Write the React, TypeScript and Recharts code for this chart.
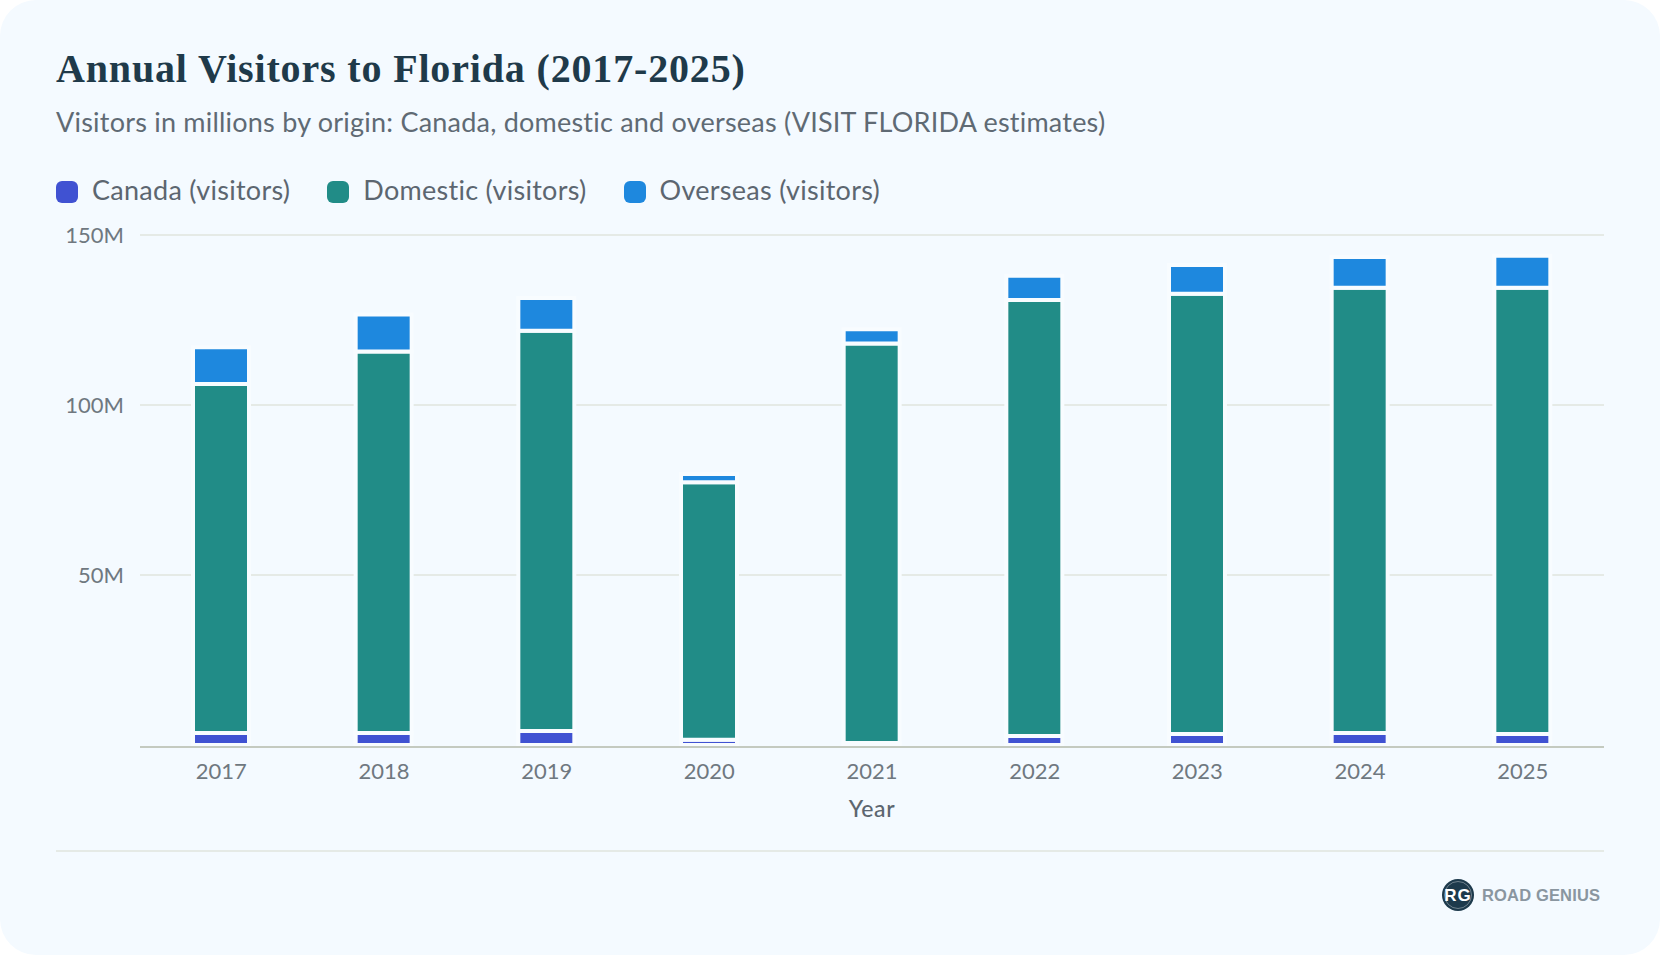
import React from 'react';
import { BarChart, Bar, XAxis, YAxis, CartesianGrid, Legend } from 'recharts';

const years = ['2017', '2018', '2019', '2020', '2021', '2022', '2023', '2024', '2025'];
const canada = [3.5, 3.5, 4.1, 1.5, 0.6, 2.6, 3.2, 3.5, 3.2];
const domestic = [102.7, 112.2, 117.7, 75.8, 117.5, 128.3, 129.5, 131.0, 131.3];
const overseas = [10.8, 10.9, 9.7, 2.4, 4.2, 7.1, 8.5, 9.0, 9.4];
const yTicks = [50, 100, 150];

const data = years.map((year, i) => ({
  year,
  canada: canada[i],
  domestic: domestic[i],
  overseas: overseas[i],
}));

const BODY_FONT = 'Lato, "Open Sans", sans-serif';
const MUTED = '#6f7880';
const GAP = '#f8fcff';

// Legend with rounded swatches, spaced like the original
const ChartLegend = ({ payload }: { payload?: Array<{ value: string; color: string }> }) => (
  <div style={{ display: 'flex', fontFamily: BODY_FONT }}>
    {(payload || []).map((entry) => (
      <div key={entry.value} style={{ display: 'flex', alignItems: 'center', marginRight: 37 }}>
        <span style={{ width: 22, height: 22, borderRadius: 6, background: entry.color, marginRight: 14, marginTop: 3 }} />
        <span style={{ fontSize: 27, letterSpacing: 0.28, color: '#5c6670', lineHeight: '32px', whiteSpace: 'nowrap' }}>{entry.value}</span>
      </div>
    ))}
  </div>
);

export default function App() {
  return (
    <div style={{ position: 'absolute', left: 0, top: 0, width: 1660, height: 955, background: '#fff', overflow: 'hidden' }}>
      <div style={{ position: 'absolute', inset: 0, background: '#f4faff', borderRadius: 36 }} />

      <div
        style={{
          position: 'absolute',
          left: 56,
          top: 45,
          fontFamily: '"Liberation Serif", serif',
          fontWeight: 700,
          fontSize: 40,
          letterSpacing: 0.84,
          lineHeight: '48px',
          color: '#1f3a4a',
          whiteSpace: 'nowrap',
        }}
      >
        Annual Visitors to Florida (2017-2025)
      </div>
      <div
        style={{
          position: 'absolute',
          left: 56,
          top: 105,
          fontFamily: BODY_FONT,
          fontSize: 27,
          letterSpacing: 0.22,
          lineHeight: '34px',
          color: '#5f6a74',
          whiteSpace: 'nowrap',
        }}
      >
        Visitors in millions by origin: Canada, domestic and overseas (VISIT FLORIDA estimates)
      </div>

      <div style={{ position: 'absolute', left: 0, top: 0 }}>
        <BarChart
          width={1660}
          height={955}
          data={data}
          margin={{ top: 235, right: 56, bottom: 0, left: 0 }}
          barCategoryGap={0}
        >
          <CartesianGrid horizontal vertical={false} stroke="#e5eae6" strokeWidth={2} />
          <XAxis
            dataKey="year"
            height={208}
            axisLine={{ stroke: '#c4cac0', strokeWidth: 2 }}
            tickLine={false}
            tickMargin={10}
            tick={{ fill: MUTED, fontSize: 22, fontFamily: BODY_FONT }}
            label={{ value: 'Year', position: 'insideTop', offset: 54, fill: '#5c6670', fontSize: 23, letterSpacing: 0.6, fontWeight: 500, fontFamily: BODY_FONT }}
          />
          <YAxis
            width={140}
            domain={[-0.6, 150]}
            ticks={yTicks}
            tickFormatter={(v: number) => `${v}M`}
            axisLine={false}
            tickLine={false}
            tickMargin={10}
            tick={{ fill: MUTED, fontSize: 22, fontFamily: BODY_FONT }}
          />
          <Legend
            layout="horizontal"
            verticalAlign="middle"
            align="center"
            wrapperStyle={{ top: 174, left: 56, width: 1000, height: 36 }}
            content={(props: any) => <ChartLegend payload={props.payload} />}
          />
          <Bar dataKey="canada" name="Canada (visitors)" stackId="a" barSize={56} fill="#4052d2" stroke={GAP} strokeWidth={4} isAnimationActive={false} />
          <Bar dataKey="domestic" name="Domestic (visitors)" stackId="a" barSize={56} fill="#218c87" stroke={GAP} strokeWidth={4} isAnimationActive={false} />
          <Bar dataKey="overseas" name="Overseas (visitors)" stackId="a" barSize={56} fill="#1e88de" stroke={GAP} strokeWidth={4} isAnimationActive={false} />
        </BarChart>
      </div>

      <div style={{ position: 'absolute', left: 56, top: 850, width: 1548, height: 2, background: '#e5eae6' }} />

      <svg style={{ position: 'absolute', left: 1440, top: 876 }} width={170} height={38}>
        <circle cx={18} cy={19} r={16} fill="#1d3a4c" />
        <circle cx={18} cy={19} r={13.5} fill="none" stroke="#ffffff" strokeWidth={0.6} opacity={0.6} />
        <text x={18} y={25} textAnchor="middle" letterSpacing={1} fontFamily='"Liberation Sans Narrow", "Liberation Sans", sans-serif' fontWeight={700} fontSize={17} fill="#ffffff">
          RG
        </text>
        <text x={42} y={25} textLength={118} lengthAdjust="spacing" fontFamily='"Liberation Sans", sans-serif' fontWeight={700} fontSize={16.5} fill="#8a96a0">
          ROAD GENIUS
        </text>
      </svg>
    </div>
  );
}
